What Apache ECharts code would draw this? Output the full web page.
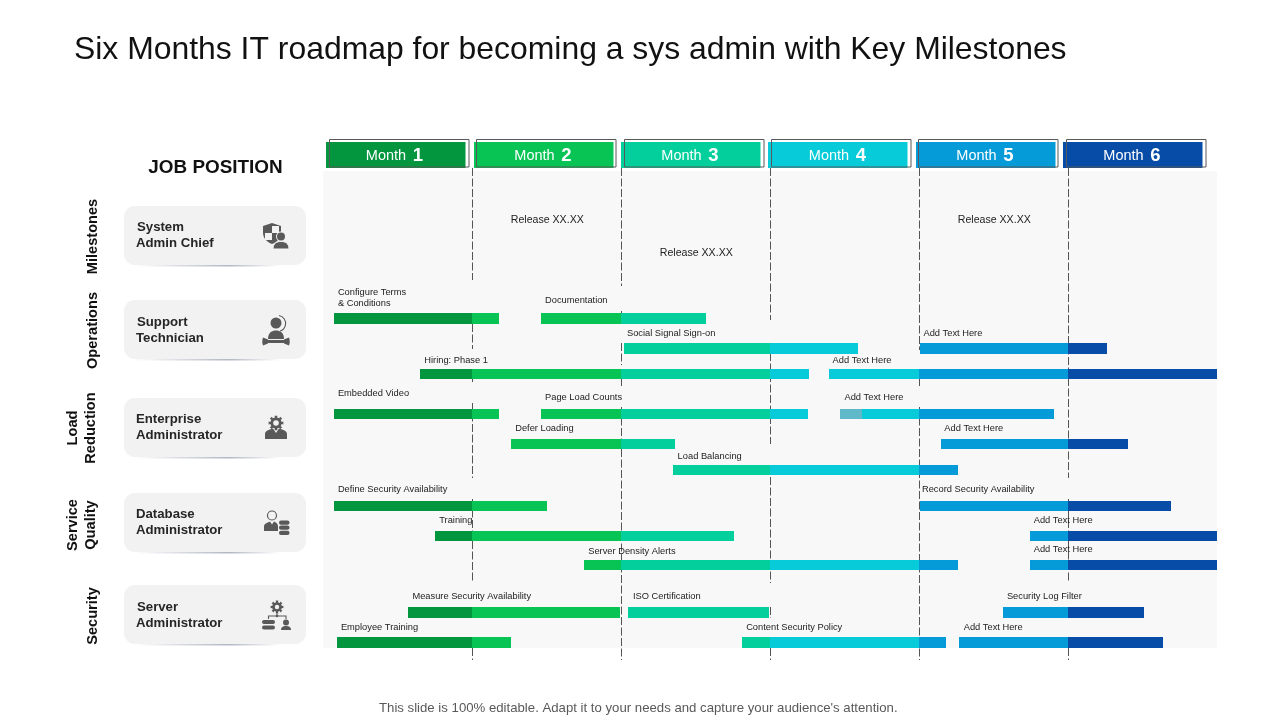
<!DOCTYPE html>
<html lang="en">
  <head>
    <meta charset="UTF-8" />
    <title>Six Months IT roadmap</title>
    <script src="https://cdn.jsdelivr.net/npm/echarts@6/dist/echarts.min.js"></script>
    <style>
      html, body { margin: 0; padding: 0; background: #fff; }
      #main { width: 1280px; height: 720px; }
    </style>
  </head>
  <body>
    <div id="main"></div>
    <script>
      // x values are in months (0-6), y values are offsets down the swimlane panel
      const months = ["1", "2", "3", "4", "5", "6"];
      const barStart = [0.074, 1.46, 2.02, 4.01, 0.65, 3.395, 0.074, 1.46, 3.47, 1.26, 4.15, 2.35, 0.074, 4.01, 0.75, 4.745, 1.75, 4.745, 0.57, 2.05, 4.562, 0.094, 2.81, 4.27];
      const barEnd = [1.18, 2.57, 3.59, 5.26, 3.26, 6.00, 1.18, 3.255, 4.905, 2.36, 5.40, 4.26, 1.50, 5.69, 2.76, 6.00, 4.26, 6.00, 1.99, 2.99, 5.51, 1.26, 4.18, 5.64];
      const barLane = [147.5, 147.5, 177.5, 177.5, 203, 203, 243, 243, 243, 273, 273, 299, 335, 335, 365, 365, 394, 394, 441.5, 441.5, 441.5, 471.5, 471.5, 471.5];
      const mutedStart = [3.47];
      const mutedEnd = [3.62];
      const mutedLane = [243];

      const taskText = ["Configure Terms", "& Conditions", "Documentation", "Social Signal Sign-on", "Add Text Here", "Hiring: Phase 1", "Add Text Here", "Embedded Video", "Page Load Counts", "Add Text Here", "Defer Loading", "Add Text Here", "Load Balancing", "Define Security Availability", "Record Security Availability", "Training", "Add Text Here", "Server Density Alerts", "Add Text Here", "Measure Security Availability", "ISO Certification", "Security Log Filter", "Employee Training", "Content Security Policy", "Add Text Here"];
      const taskTextX = [0.10, 0.10, 1.49, 2.04, 4.03, 0.68, 3.42, 0.10, 1.49, 3.50, 1.29, 4.17, 2.38, 0.10, 4.02, 0.78, 4.77, 1.78, 4.77, 0.60, 2.08, 4.59, 0.12, 2.84, 4.30];
      const taskTextY = [121.5, 132, 129, 162, 162, 189, 189, 222, 226, 226, 257, 257, 285, 318, 318, 349, 349, 380, 378, 425, 425, 425, 456, 456, 456];

      const releaseText = ["Release XX.XX", "Release XX.XX", "Release XX.XX"];
      const releaseX = [1.26, 2.26, 4.26];
      const releaseY = [49.5, 82.5, 49.5];

      // month boundary, top and bottom of each visible piece of the dashed dividers
      const dividerMonth = [1, 1, 1, 1, 1, 1, 2, 2, 2, 2, 2, 3, 3, 3, 3, 3, 4, 4, 4, 5, 5, 5];
      const dividerTop = [-3, 153, 208, 232, 328, 477, -3, 140, 172, 208, 236, -3, 182, 306, 436, 477, -3, 208, 236, -3, 328, 477];
      const dividerBottom = [109, 178, 211, 307, 412, 489, 115, 142, 194, 215, 489, 149, 273, 412, 447, 489, 179, 215, 489, 307, 412, 489];

      const jobTitles = [["System", "Admin Chief"], ["Support", "Technician"], ["Enterprise", "Administrator"], ["Database", "Administrator"], ["Server", "Administrator"]];
      const sideLabels = [["Milestones"], ["Operations"], ["Load", "Reduction"], ["Service", "Quality"], ["Security"]];

      const monthColors = ["#03963f", "#08c455", "#02cf9b", "#07cbd9", "#059bd8", "#074ca6"];
      const mutedColor = "#5fb9c9";
      const iconColor = "#595959";
      const cardColor = "#f2f2f2";
      const fontName = "'Liberation Sans', Arial, sans-serif";

      // split every bar at the month boundaries so each piece takes its month colour
      const segments = [];
      barStart.forEach((start, i) => {
        for (let m = Math.floor(start); m < Math.ceil(barEnd[i]); m++) {
          segments.push([Math.max(start, m), Math.min(barEnd[i], m + 1), barLane[i], m]);
        }
      });

      function renderBar(params, api) {
        const left = api.coord([api.value(0), api.value(2)]);
        const right = api.coord([api.value(1), api.value(2)]);
        const x1 = Math.round(left[0]);
        const x2 = Math.round(right[0]);
        const y1 = Math.round(left[1] - 5.25);
        const y2 = Math.round(left[1] + 5.25);
        const color = api.value(3) < 0 ? mutedColor : monthColors[api.value(3)];
        return {
          type: "rect",
          shape: { x: x1, y: y1, width: x2 - x1, height: y2 - y1 },
          style: { fill: color },
        };
      }

      function renderDivider(params, api) {
        const top = api.coord([api.value(0), api.value(1)]);
        const bottom = api.coord([api.value(0), api.value(2)]);
        return {
          type: "line",
          shape: { x1: top[0] + 0.5, y1: top[1], x2: bottom[0] + 0.5, y2: bottom[1] },
          style: { stroke: "#555555", lineWidth: 1, lineDash: [8, 2.5] },
        };
      }

      function textRenderer(texts, size) {
        return function (params, api) {
          const p = api.coord([api.value(0), api.value(1)]);
          return {
            type: "text",
            x: p[0],
            y: p[1],
            style: {
              text: texts[params.dataIndex],
              fill: "#222222",
              font: size + "px " + fontName,
              align: "left",
              verticalAlign: "middle",
            },
          };
        };
      }

      function gearPath(cx, cy, r) {
        let d = "";
        for (let i = 0; i < 16; i++) {
          const a = ((i - 0.5) * Math.PI) / 8;
          const big = i % 2 === 0 ? r : r * 0.76;
          const b = a + Math.PI / 8;
          d += (i ? "L" : "M") + (cx + big * Math.cos(a)).toFixed(2) + " " + (cy + big * Math.sin(a)).toFixed(2);
          d += "L" + (cx + big * Math.cos(b)).toFixed(2) + " " + (cy + big * Math.sin(b)).toFixed(2);
        }
        return d + "Z";
      }

      function solid(d) {
        return { type: "path", shape: { pathData: d }, style: { fill: iconColor } };
      }
      function ball(cx, cy, r, fill) {
        return { type: "circle", shape: { cx: cx, cy: cy, r: r }, style: { fill: fill || iconColor } };
      }
      function block(x, y, w, h, r, fill) {
        return { type: "rect", shape: { x: x, y: y, width: w, height: h, r: r }, style: { fill: fill || iconColor } };
      }
      function stroke(d) {
        return { type: "path", shape: { pathData: d }, style: { fill: "none", stroke: iconColor, lineWidth: 1.1 } };
      }

      const icons = [
        solid("M263 226L272 223L281 226V233C281 238 277 242 272 244C267 242 263 238 263 233Z"),
        block(272, 226, 7, 7, 0, cardColor),
        block(265, 233, 7, 7, 0, cardColor),
        ball(281, 236.5, 5, cardColor),
        ball(281, 236.5, 4),
        { type: "path", shape: { pathData: "M273 249C273 243 277 241.5 281 241.5C285 241.5 289 243 289 249Z" }, style: { fill: iconColor, stroke: cardColor, lineWidth: 1 } },

        ball(276, 323, 5.5),
        stroke("M279 315.5A8 8 0 0 1 280 331"),
        solid("M268 339C268 332.5 272 330.5 276 330.5C280 330.5 284 332.5 284 339Z"),
        block(266, 340, 20, 3, 0),
        solid("M268 339.5L263 337.5C262 340 262 343 263 345.5L268 343.5Z"),
        solid("M284 339.5L289 337.5C290 340 290 343 289 345.5L284 343.5Z"),

        solid(gearPath(276, 423, 7.5)),
        ball(276, 423, 2.8, cardColor),
        solid("M265 439V434C265 430.5 270 429.5 273 428.5L276 433L279 428.5C282 429.5 287 430.5 287 434V439Z"),

        { type: "circle", shape: { cx: 272, cy: 515.5, r: 4.5 }, style: { fill: cardColor, stroke: iconColor, lineWidth: 1.2 } },
        solid("M264 531V526.5C264 523.5 268 522.5 270 521.5L272 524.5L274 521.5C276 522.5 278 523.5 278 526.5V531Z"),
        block(279, 520.5, 10.5, 4.2, 2),
        block(279, 525.6, 10.5, 4.2, 2),
        block(279, 530.7, 10.5, 4.2, 2),

        solid(gearPath(277, 607, 6.5)),
        ball(277, 607, 2.2, cardColor),
        stroke("M277 613.5V616M268.5 619V616H286V619"),
        ball(277, 616, 1.3),
        block(262, 620, 13, 4, 2),
        block(262, 625.5, 13, 4, 2),
        ball(286, 622.5, 3),
        solid("M281 630C281 627 283 626 286 626C289 626 291 627 291 630Z"),
      ];

      // header tabs: filled block with a thin offset outline
      const tabFillX = [326, 474, 621, 768, 916, 1063];
      const tabLineX = [329, 476, 624, 771, 918, 1066];
      const tabTextX = [394.5, 543, 690, 837.5, 985, 1132];
      const cardTop = [206, 300, 398, 493, 585];
      const cardRowY = [[227.5, 243], [322.5, 338], [419.5, 435], [514, 530], [607, 623]];
      const cardRowX = [[137, 136], [137, 136], [136, 136], [136, 136], [137, 136]];
      const sideY = [236.5, 330.5, 428, 525, 616];

      const graphics = [];

      months.forEach((m, i) => {
        graphics.push({ type: "rect", shape: { x: tabFillX[i], y: 142, width: 139.5, height: 26 }, style: { fill: monthColors[i] } });
        graphics.push({ type: "rect", shape: { x: tabLineX[i] + 0.5, y: 139.5, width: 139.5, height: 27.5 }, style: { fill: "none", stroke: "#595959", lineWidth: 1 } });
        graphics.push({
          type: "text",
          x: tabTextX[i],
          y: 156,
          style: {
            text: "{a|Month}  {b|" + m + "}",
            align: "center",
            verticalAlign: "middle",
            rich: {
              a: { fontSize: 14.5, fill: "#ffffff", color: "#ffffff", fontFamily: fontName },
              b: { fontSize: 18.5, fontWeight: "bold", fill: "#ffffff", color: "#ffffff", fontFamily: fontName },
            },
          },
        });
      });

      graphics.push({
        type: "text",
        x: 215.5,
        y: 168,
        style: { text: "JOB POSITION", font: "bold 18.9px " + fontName, fill: "#111111", align: "center", verticalAlign: "middle" },
      });

      jobTitles.forEach((rows, i) => {
        const top = cardTop[i];
        graphics.push({
          type: "rect",
          shape: { x: 134, y: top + 59, width: 146, height: 1.6 },
          style: {
            fill: new echarts.graphic.LinearGradient(0, 0, 1, 0, [
              { offset: 0, color: "rgba(178,183,196,0)" },
              { offset: 0.65, color: "rgba(178,183,196,1)" },
              { offset: 1, color: "rgba(178,183,196,0)" },
            ]),
          },
        });
        graphics.push({ type: "rect", shape: { x: 124, y: top, width: 182, height: 59, r: 11 }, style: { fill: cardColor } });
        rows.forEach((row, r) => {
          graphics.push({
            type: "text",
            x: cardRowX[i][r],
            y: cardRowY[i][r],
            style: { text: row, font: "bold 13.2px " + fontName, fill: "#262626", align: "left", verticalAlign: "middle" },
          });
        });
      });

      sideLabels.forEach((rows, i) => {
        rows.forEach((row, r) => {
          const x = rows.length === 2 ? (r === 0 ? 72.5 : 91) : 92.5;
          graphics.push({
            type: "text",
            x: x,
            y: sideY[i],
            rotation: Math.PI / 2,
            style: { text: row, font: "bold 14.6px " + fontName, fill: "#111111", align: "center", verticalAlign: "middle" },
          });
        });
      });

      const myChart = echarts.init(document.getElementById("main"));
      const option = {
        animation: false,
        backgroundColor: "#ffffff",
        title: [
          {
            text: "Six Months IT roadmap for becoming a sys admin with Key Milestones",
            left: 74,
            top: 34,
            padding: 0,
            textStyle: { fontFamily: fontName, fontSize: 31.9, fontWeight: "normal", color: "#111111" },
          },
          {
            text: "This slide is 100% editable. Adapt it to your needs and capture your audience's attention.",
            left: 379,
            top: 702,
            padding: 0,
            textStyle: { fontFamily: fontName, fontSize: 13.2, fontWeight: "normal", color: "#595959" },
          },
        ],
        grid: {
          show: true,
          left: 323,
          right: 63,
          top: 171,
          bottom: 72,
          backgroundColor: "#f8f8f8",
          borderWidth: 0,
        },
        xAxis: { type: "value", min: 0, max: 6, interval: 1, show: false },
        yAxis: { type: "value", min: 0, max: 477, inverse: true, show: false },
        graphic: graphics,
        series: [
          {
            type: "custom",
            name: "Dividers",
            z: 1,
            renderItem: renderDivider,
            data: dividerMonth.map((m, i) => [m, dividerTop[i], dividerBottom[i]]),
          },
          {
            type: "custom",
            name: "Tasks",
            z: 2,
            renderItem: renderBar,
            data: segments,
          },
          {
            type: "custom",
            name: "Muted",
            z: 3,
            renderItem: renderBar,
            data: mutedStart.map((s, i) => [s, mutedEnd[i], mutedLane[i], -1]),
          },
          {
            type: "custom",
            name: "Task labels",
            z: 4,
            renderItem: textRenderer(taskText, 9.3),
            data: taskTextX.map((x, i) => [x, taskTextY[i]]),
          },
          {
            type: "custom",
            name: "Release labels",
            z: 4,
            renderItem: textRenderer(releaseText, 10.6),
            data: releaseX.map((x, i) => [x, releaseY[i]]),
          },
          {
            type: "custom",
            name: "Job icons",
            coordinateSystem: "none",
            z: 5,
            silent: true,
            renderItem: function () {
              return { type: "group", children: icons };
            },
            data: [0],
          },
        ],
      };
      myChart.setOption(option);
    </script>
  </body>
</html>
